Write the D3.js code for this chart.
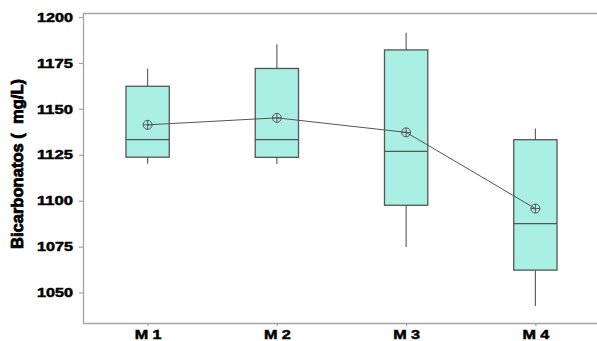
<!DOCTYPE html>
<html>
<head>
<meta charset="utf-8">
<script src="https://cdn.jsdelivr.net/npm/d3@7"></script>
<style>
  html, body { margin: 0; padding: 0; background: #fff; }
  svg { display: block; }
  text { font-family: "Liberation Sans", Arial, sans-serif; font-weight: bold; fill: #000; }
</style>
</head>
<body>
<svg id="chart" width="597" height="341"></svg>
<script>
// Bicarbonate concentration by sampling point
const categories = ["M 1", "M 2", "M 3", "M 4"];
const whiskerLow  = [1120.1, 1120.0, 1074.8, 1042.6];
const q1          = [1123.7, 1123.6, 1097.5, 1062.2];
const median      = [1133.2, 1133.2, 1126.8, 1087.5];
const q3          = [1162.3, 1172.0, 1182.1, 1133.2];
const whiskerHigh = [1172.0, 1185.2, 1191.5, 1139.3];
const means       = [1141.3, 1145.1, 1137.2, 1095.7];
const yTicks      = [1050, 1075, 1100, 1125, 1150, 1175, 1200];
const yLabel      = "Bicarbonatos (  mg/L)";

const rows = categories.map((c, i) => ({
  cat: c, lo: whiskerLow[i], q1: q1[i], med: median[i], q3: q3[i], hi: whiskerHigh[i], mean: means[i]
}));

const svg = d3.select("#chart");
const W = 597;
const plotLeft = 83, plotTop = 13, plotBottom = 323;

const x = d3.scalePoint().domain(categories).range([plotLeft, 600]).padding(0.5);
const y = d3.scaleLinear().domain([1033.4, 1202.2]).range([plotBottom, plotTop]);
const boxW = x.step() * 0.335;

const frame = "#a3a3a3";
const ink = "#555";

// top border
svg.append("line")
  .attr("x1", plotLeft).attr("x2", W).attr("y1", plotTop + 0.5).attr("y2", plotTop + 0.5)
  .attr("stroke", frame).attr("stroke-width", 1.3);

// y axis
const yAxis = svg.append("g").attr("transform", `translate(${plotLeft},0)`)
  .call(d3.axisLeft(y).tickValues(yTicks).tickSize(4).tickPadding(6).tickFormat(d3.format("d")));
yAxis.select(".domain").attr("stroke", frame).attr("stroke-width", 1.3)
  .attr("d", `M0.5,${plotTop}V${plotBottom}`);
yAxis.selectAll(".tick line").attr("stroke", frame).attr("stroke-width", 1.2);
yAxis.selectAll(".tick text")
  .style("font-size", "13px").attr("fill", "#000")
  .attr("stroke", "#000").attr("stroke-width", 0.5)
  .attr("textLength", 36).attr("lengthAdjust", "spacingAndGlyphs");

// x axis
const xAxis = svg.append("g").attr("transform", `translate(0,${plotBottom})`)
  .call(d3.axisBottom(x).tickSize(3).tickPadding(3.5));
xAxis.select(".domain").attr("stroke", frame).attr("stroke-width", 1.3)
  .attr("d", `M${plotLeft},0.5H${W}`);
xAxis.selectAll(".tick line").attr("stroke", frame).attr("stroke-width", 1.2);
xAxis.selectAll(".tick text")
  .style("font-size", "13px").attr("fill", "#000")
  .attr("stroke", "#000").attr("stroke-width", 0.5)
  .attr("textLength", 27).attr("lengthAdjust", "spacingAndGlyphs");

// y axis title
svg.append("text")
  .attr("transform", `translate(22.5,164) rotate(-90)`)
  .attr("text-anchor", "middle")
  .style("font-size", "16px")
  .style("white-space", "pre")
  .attr("xml:space", "preserve")
  .attr("stroke", "#000").attr("stroke-width", 0.8)
  .attr("textLength", 170).attr("lengthAdjust", "spacingAndGlyphs")
  .text(yLabel);

// boxes
const box = svg.append("g").selectAll("g.box").data(rows).join("g").attr("class", "box");

box.append("line")
  .attr("x1", d => x(d.cat)).attr("x2", d => x(d.cat))
  .attr("y1", d => y(d.hi)).attr("y2", d => y(d.q3))
  .attr("stroke", ink).attr("stroke-width", 1.1);
box.append("line")
  .attr("x1", d => x(d.cat)).attr("x2", d => x(d.cat))
  .attr("y1", d => y(d.q1)).attr("y2", d => y(d.lo))
  .attr("stroke", ink).attr("stroke-width", 1.1);
box.append("rect")
  .attr("x", d => x(d.cat) - boxW / 2).attr("width", boxW)
  .attr("y", d => y(d.q3)).attr("height", d => y(d.q1) - y(d.q3))
  .attr("fill", "#a9efe4").attr("stroke", ink).attr("stroke-width", 1.3);
box.append("line")
  .attr("x1", d => x(d.cat) - boxW / 2).attr("x2", d => x(d.cat) + boxW / 2)
  .attr("y1", d => y(d.med)).attr("y2", d => y(d.med))
  .attr("stroke", ink).attr("stroke-width", 1.3);

// mean connector
svg.append("path")
  .datum(rows)
  .attr("fill", "none").attr("stroke", ink).attr("stroke-width", 1)
  .attr("d", d3.line().x(d => x(d.cat)).y(d => y(d.mean)));

// mean symbols: circle with cross
const r = 4.5;
const m = svg.selectAll("g.mean").data(rows).join("g").attr("class", "mean")
  .attr("transform", d => `translate(${x(d.cat)},${y(d.mean)})`);
m.append("circle").attr("r", r).attr("fill", "none").attr("stroke", ink).attr("stroke-width", 1);
m.append("path").attr("d", `M${-r},0H${r}M0,${-r}V${r}`).attr("stroke", ink).attr("stroke-width", 1);
</script>
</body>
</html>
